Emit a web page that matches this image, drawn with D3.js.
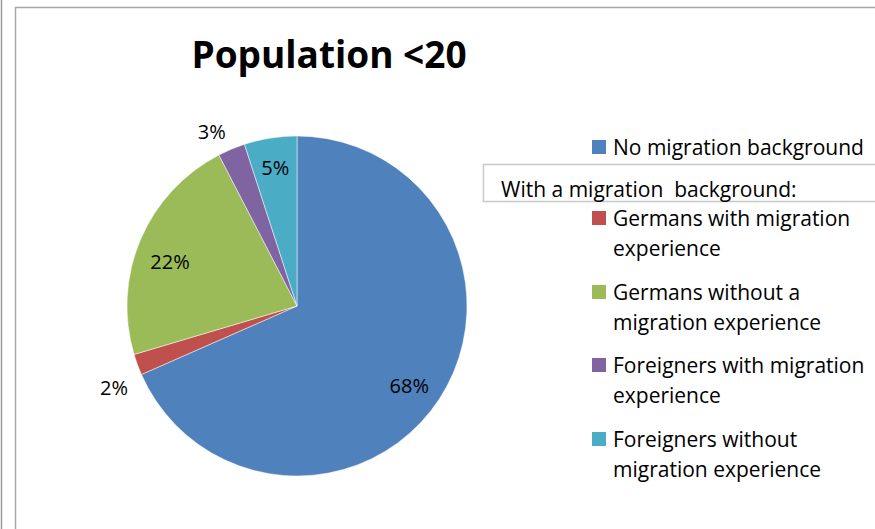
<!DOCTYPE html>
<html><head><meta charset="utf-8">
<script src="https://cdn.jsdelivr.net/npm/d3@7"></script>
<style>body{margin:0;background:#fff}svg{display:block}</style>
</head><body>
<script>
const categories = ["No migration background","Germans with migration experience","Germans without a migration experience","Foreigners with migration experience","Foreigners without migration experience"];
const legendLines = [["No migration background"],["Germans with migration","experience"],["Germans without a","migration experience"],["Foreigners with migration","experience"],["Foreigners without","migration experience"]];
const values = [68.4, 2.0, 22.0, 2.6, 5.0];
const colors = ["#4F81BD","#C0504D","#9BBB59","#8064A2","#4BACC6"];
const title = "Population <20";
const groupHeader = "With a migration  background:";

const W=875,H=529;
const svg=d3.select("body").append("svg").attr("width",W).attr("height",H);
const font="'Open Sans', sans-serif";

// frames
svg.append("line").attr("x1",1.5).attr("x2",1.5).attr("y1",0).attr("y2",H).attr("stroke","#9a9a9a").attr("stroke-width",1.5);
svg.append("path").attr("d",`M15.5,${H} V7.5 H${W}`).attr("fill","none").attr("stroke","#a6a6a6").attr("stroke-width",1.5);

svg.append("text").attr("x",329).attr("y",68).attr("text-anchor","middle")
  .attr("font-family",font).attr("font-weight","bold").attr("font-size",37).attr("fill","#000").text(title);

const cx=297,cy=306,r=170;
const pie=d3.pie().sort(null).value(d=>d)(values);
const arc=d3.arc().innerRadius(0).outerRadius(r);
const g=svg.append("g").attr("transform",`translate(${cx},${cy})`);
g.selectAll("path").data(pie).join("path").attr("d",arc).attr("fill",(d,i)=>colors[i]).attr("stroke","#fff").attr("stroke-width",0.5);

const labelR=[0.81,1.18,0.79,1.14,0.82];
const labelA=[0.04,-0.07,-0.07,-0.06,0];
g.selectAll("text.lbl").data(pie).join("text").attr("class","lbl")
  .attr("transform",(d,i)=>{const a=(d.startAngle+d.endAngle)/2+labelA[i];const rr=r*labelR[i];return `translate(${Math.sin(a)*rr},${-Math.cos(a)*rr})`;})
  .attr("text-anchor","middle").attr("dy","0.35em")
  .attr("font-family",font).attr("font-size",20).attr("fill","#000")
  .text(d=>Math.round(d.data)+"%");

// legend
const lg=svg.append("g");
const ys=[147,218,292,365,439];
const fs=21;
lg.append("path").attr("d","M875,164.5 H483.5 V201.5 H875").attr("fill","none").attr("stroke","#c8c8c8").attr("stroke-width",1.5);
lg.append("text").attr("x",501).attr("y",197).attr("font-family",font).attr("font-size",fs).attr("fill","#000").style("white-space","pre").text(groupHeader);
legendLines.forEach((lines,i)=>{
  lg.append("rect").attr("x",592).attr("y",ys[i]-7).attr("width",14).attr("height",14).attr("fill",colors[i]);
  lines.forEach((t,j)=>{
    lg.append("text").attr("x",613).attr("y",ys[i]+8+j*30).attr("font-family",font).attr("font-size",fs).attr("fill","#000").text(t);
  });
});
</script>
</body></html>
